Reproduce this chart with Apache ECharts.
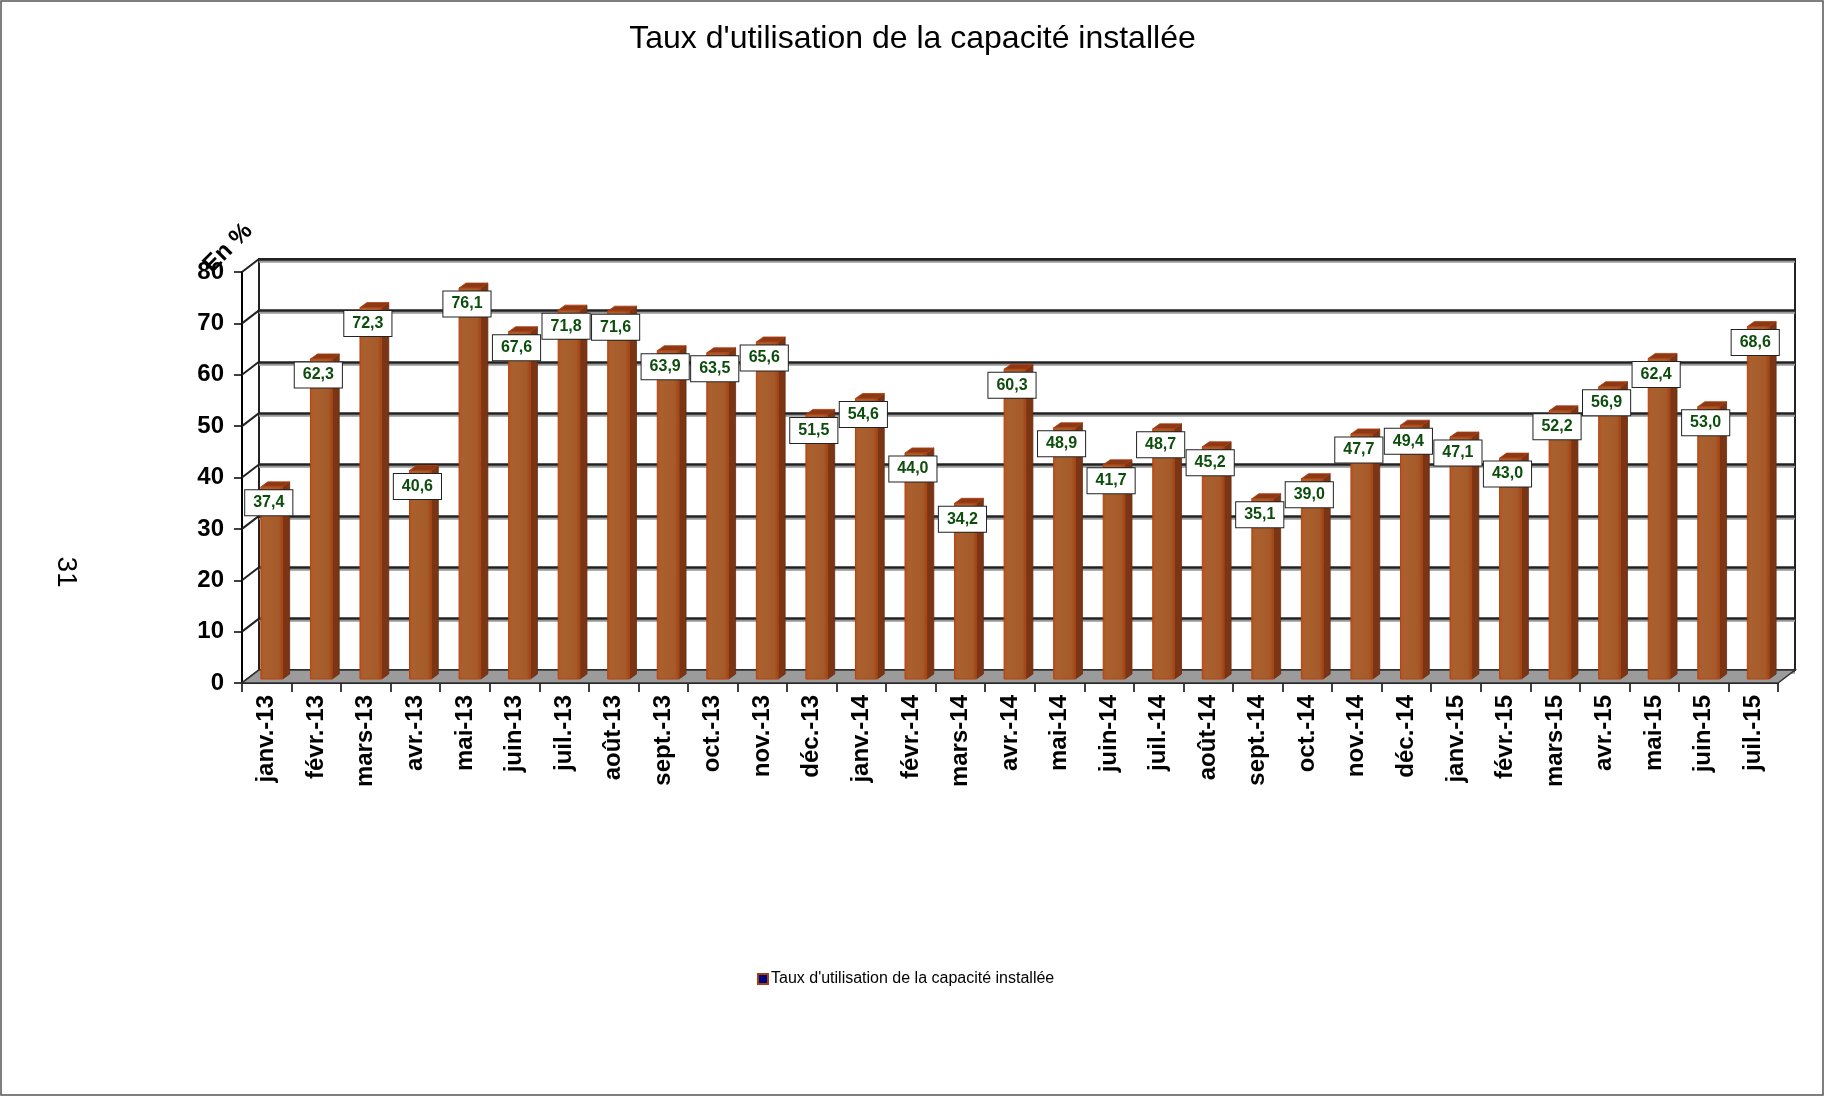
<!DOCTYPE html>
<html>
<head>
<meta charset="utf-8">
<title>Taux d'utilisation de la capacité installée</title>
<script src="https://cdn.jsdelivr.net/npm/echarts@6/dist/echarts.min.js"></script>
<style>
  html, body { margin: 0; padding: 0; background: #fff; }
  #chart { width: 1825px; height: 1097px; }
</style>
</head>
<body>
<div id="chart"></div>
<script>
// données
const months = [
  'janv.-13', 'févr.-13', 'mars-13', 'avr.-13', 'mai-13', 'juin-13', 'juil.-13', 'août-13',
  'sept.-13', 'oct.-13', 'nov.-13', 'déc.-13',
  'janv.-14', 'févr.-14', 'mars-14', 'avr.-14', 'mai-14', 'juin-14', 'juil.-14', 'août-14',
  'sept.-14', 'oct.-14', 'nov.-14', 'déc.-14',
  'janv.-15', 'févr.-15', 'mars-15', 'avr.-15', 'mai-15', 'juin-15', 'juil.-15'
];
const tauxValues = [
  37.4, 62.3, 72.3, 40.6, 76.1, 67.6, 71.8, 71.6, 63.9, 63.5, 65.6, 51.5,
  54.6, 44.0, 34.2, 60.3, 48.9, 41.7, 48.7, 45.2, 35.1, 39.0, 47.7, 49.4,
  47.1, 43.0, 52.2, 56.9, 62.4, 53.0, 68.6
];
const yTicks = [0, 10, 20, 30, 40, 50, 60, 70, 80];
const seriesName = "Taux d'utilisation de la capacité installée";

// décalage de profondeur (effet 3D)
const DX = 17, DY = -13;
const FONT = "'Liberation Sans', Arial, sans-serif";

const chart = echarts.init(document.getElementById('chart'));

// mur de gauche : diagonales à chaque graduation
const renderSideWall = (params, api) => {
  const bw = api.size([1, 0])[0];
  const p = api.coord([0, api.value(1)]);
  const x = p[0] - bw / 2;
  return {
    type: 'line',
    shape: { x1: x, y1: p[1], x2: x + DX, y2: p[1] + DY },
    style: { stroke: '#222', lineWidth: 2 }
  };
};

// sol gris
const renderFloor = (params, api) => {
  const bw = api.size([1, 0])[0];
  const a = api.coord([0, 0]);
  const b = api.coord([months.length - 1, 0]);
  const L = a[0] - bw / 2, R = b[0] + bw / 2, y = a[1];
  return {
    type: 'polygon',
    shape: { points: [[L, y], [R, y], [R + DX, y + DY], [L + DX, y + DY]] },
    style: { fill: '#9b9b9b', stroke: '#333', lineWidth: 1.5 }
  };
};

// barres pseudo 3D
const renderBar = (params, api) => {
  const i = api.value(0), v = api.value(1);
  const bw = api.size([1, 0])[0];
  const p0 = api.coord([i, 0]);
  const p1 = api.coord([i, v]);
  const W = bw * 0.44, d = 7, dd = -5;
  const cx = p0[0] + 5;
  const bottom = p0[1] - 4, top = p1[1] - 4;
  const xl = cx - W / 2, xr = cx + W / 2;
  return {
    type: 'group',
    children: [
      {
        type: 'polygon',
        shape: { points: [[xr, top], [xr + d, top + dd], [xr + d, bottom + dd], [xr, bottom]] },
        style: { fill: '#7a3514', stroke: '#6a2c10', lineWidth: 0.8 }
      },
      {
        type: 'polygon',
        shape: { points: [[xl, top], [xr, top], [xr + d, top + dd], [xl + d, top + dd]] },
        style: { fill: '#8c3a16', stroke: '#b53a0c', lineWidth: 0.8 }
      },
      {
        type: 'rect',
        shape: { x: xl, y: top, width: W, height: bottom - top },
        style: {
          fill: new echarts.graphic.LinearGradient(0, 0, 1, 0, [
            { offset: 0, color: '#b8531f' },
            { offset: 0.2, color: '#a9602f' },
            { offset: 0.8, color: '#a65a2a' },
            { offset: 1, color: '#9a4418' }
          ]),
          stroke: '#b3420f',
          lineWidth: 1
        }
      }
    ]
  };
};

// étiquettes de valeur
const renderLabel = (params, api) => {
  const i = api.value(0), v = api.value(1);
  const p0 = api.coord([i, 0]);
  const p1 = api.coord([i, v]);
  return {
    type: 'text',
    x: p0[0] + 2,
    y: p1[1] + 12,
    style: {
      text: v.toFixed(1).replace('.', ','),
      font: 'bold 16px ' + FONT,
      fill: '#0c4d0c',
      align: 'center',
      verticalAlign: 'middle',
      backgroundColor: '#fff',
      borderColor: '#222',
      borderWidth: 1,
      padding: [5, 8, 4, 8]
    }
  };
};

const option = {
  animation: false,
  backgroundColor: '#fff',
  title: {
    text: seriesName,
    left: 'center',
    top: 23,
    padding: 0,
    textStyle: { fontFamily: FONT, fontSize: 32, fontWeight: 'normal', color: '#000' }
  },
  legend: {
    left: 752,
    top: 966,
    itemWidth: 10,
    itemHeight: 10,
    itemGap: 4,
    data: [{
      name: seriesName,
      icon: 'rect',
      itemStyle: { color: '#000080', borderColor: '#a3400f', borderWidth: 2 }
    }],
    textStyle: { fontFamily: FONT, fontSize: 16, color: '#000', padding: [0, 0, 0, -2] }
  },
  grid: [
    // plan avant (axes)
    { left: 242, right: 47, top: 272, bottom: 414 },
    // mur du fond
    {
      left: 242 + DX, right: 47 - DX, top: 272 + DY, bottom: 414 - DY,
      show: true, borderColor: '#222', borderWidth: 2, backgroundColor: '#fff'
    }
  ],
  xAxis: [
    {
      type: 'category',
      gridIndex: 0,
      data: months,
      axisLine: { lineStyle: { color: '#000', width: 2 } },
      axisTick: { show: true, length: 9, lineStyle: { color: '#000', width: 1.5 } },
      axisLabel: {
        rotate: 90,
        margin: 12,
        color: '#000',
        fontFamily: FONT,
        fontSize: 24,
        fontWeight: 'bold'
      },
      splitLine: { show: false }
    },
    {
      type: 'category',
      gridIndex: 1,
      data: months,
      show: false
    }
  ],
  yAxis: [
    {
      type: 'value',
      gridIndex: 0,
      min: 0,
      max: 80,
      interval: 10,
      axisLine: { show: true, lineStyle: { color: '#000', width: 2 } },
      axisTick: { show: true, length: 8, lineStyle: { color: '#000', width: 1.5 } },
      axisLabel: {
        margin: 18,
        color: '#000',
        fontFamily: FONT,
        fontSize: 24,
        fontWeight: 'bold'
      },
      splitLine: { show: false }
    },
    {
      type: 'value',
      gridIndex: 1,
      min: 0,
      max: 80,
      interval: 10,
      axisLine: { show: false },
      axisTick: { show: false },
      axisLabel: { show: false },
      splitLine: {
        show: true,
        lineStyle: { color: '#222', width: 2.5, shadowColor: '#999', shadowOffsetY: 2, shadowBlur: 0 }
      }
    }
  ],
  series: [
    {
      type: 'custom',
      name: 'mur',
      xAxisIndex: 0,
      yAxisIndex: 0,
      renderItem: renderSideWall,
      data: yTicks.map((t) => [0, t]),
      silent: true,
      z: 1
    },
    {
      type: 'custom',
      name: 'sol',
      xAxisIndex: 0,
      yAxisIndex: 0,
      renderItem: renderFloor,
      data: [[0, 0]],
      silent: true,
      z: 2
    },
    {
      type: 'custom',
      name: seriesName,
      xAxisIndex: 0,
      yAxisIndex: 0,
      renderItem: renderBar,
      itemStyle: { color: '#000080' },
      data: tauxValues.map((v, i) => [i, v]),
      z: 3
    },
    {
      type: 'custom',
      name: 'etiquettes',
      xAxisIndex: 0,
      yAxisIndex: 0,
      renderItem: renderLabel,
      data: tauxValues.map((v, i) => [i, v]),
      silent: true,
      z: 4
    }
  ],
  graphic: [
    {
      type: 'rect',
      shape: { x: 1, y: 1, width: 1822, height: 1094 },
      style: { fill: null, stroke: '#555', lineWidth: 1.5 },
      silent: true
    },
    {
      type: 'text',
      x: 228,
      y: 248,
      rotation: Math.PI / 4,
      style: {
        text: 'En %',
        font: 'bold 24px ' + FONT,
        fill: '#000',
        align: 'center',
        verticalAlign: 'middle'
      },
      z: 10
    },
    {
      type: 'text',
      x: 66,
      y: 572,
      rotation: -Math.PI / 2,
      style: {
        text: '31',
        font: '28px ' + FONT,
        fill: '#000',
        align: 'center',
        verticalAlign: 'middle'
      }
    }
  ]
};

chart.setOption(option);
</script>
</body>
</html>
